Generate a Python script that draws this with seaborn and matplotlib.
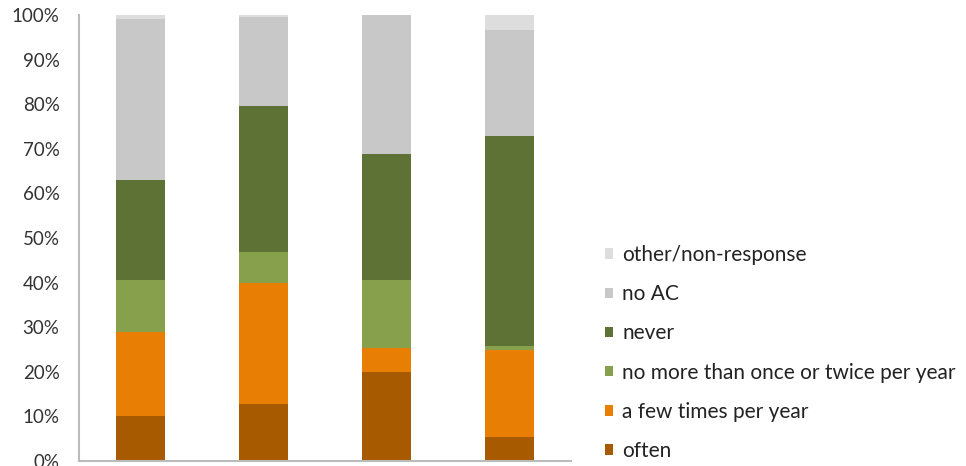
import matplotlib
matplotlib.use("Agg")
import matplotlib.pyplot as plt
import seaborn as sns
import numpy as np
import pandas as pd

# categories (x labels not visible in the reference)
groups = ["Group 1", "Group 2", "Group 3", "Group 4"]

# series values in percent, bottom to top
often = [10.0, 12.8, 19.9, 5.3]
few_times = [19.0, 27.0, 5.4, 19.6]
once_twice = [11.6, 7.0, 15.3, 0.8]
never = [22.4, 32.7, 28.2, 47.2]
no_ac = [36.1, 20.1, 31.2, 23.7]
other = [0.9, 0.4, 0.0, 3.4]

series_names = ["often", "a few times per year",
                "no more than once or twice per year", "never",
                "no AC", "other/non-response"]
series_vals = [often, few_times, once_twice, never, no_ac, other]
colors = ["#A85A00", "#E87E04", "#86A04C", "#5E7236", "#C8C8C8", "#DDDDDD"]

yticks = [0, 10, 20, 30, 40, 50, 60, 70, 80, 90, 100]
ytick_labels = [f"{v}%" for v in yticks]

sns.set_style("white")
plt.rcParams["font.family"] = ["Lato", "DejaVu Sans"]

fig = plt.figure(figsize=(9.66, 4.66), dpi=100)
ax = fig.add_axes([79 / 966, 1 - 461 / 466, (571 - 79) / 966, (461 - 15) / 466])

cum = np.cumsum(np.array(series_vals), axis=0)
# draw from the top layer down so each lower layer covers the upper cumulative bar
for i in range(len(series_names) - 1, -1, -1):
    df = pd.DataFrame({"group": groups, "value": cum[i]})
    sns.barplot(data=df, x="group", y="value", color=colors[i], width=0.4,
                saturation=1, linewidth=0, ax=ax, label=series_names[i])

ax.set_xlim(-0.5, 3.5)
ax.set_ylim(0, 100)
ax.set_yticks(yticks)
ax.set_yticklabels(ytick_labels, fontsize=13.5, color="#333333")
ax.set_xticks([-0.5, 0.5, 1.5, 2.5, 3.5])
ax.tick_params(axis="x", labelbottom=False, length=6, width=1.2, color="#BBBBBB", direction="out")
ax.tick_params(axis="y", length=6, width=1.2, color="#BBBBBB", direction="out", pad=8)
ax.set_xlabel("")
ax.set_ylabel("")
for s in ["top", "right"]:
    ax.spines[s].set_visible(False)
for s in ["left", "bottom"]:
    ax.spines[s].set_color("#BBBBBB")
    ax.spines[s].set_linewidth(1.5)

handles, labels = ax.get_legend_handles_labels()
if ax.get_legend() is not None:
    ax.get_legend().remove()
fig.legend(handles, labels, loc="center left", bbox_to_anchor=(605 / 966, 1 - 353 / 466),
           frameon=False, fontsize=15, handlelength=0.4, handleheight=0.4,
           handletextpad=0.43, labelspacing=0.92, borderpad=0, borderaxespad=0,
           labelcolor="#222222")

fig.savefig("out.png", dpi=100)
